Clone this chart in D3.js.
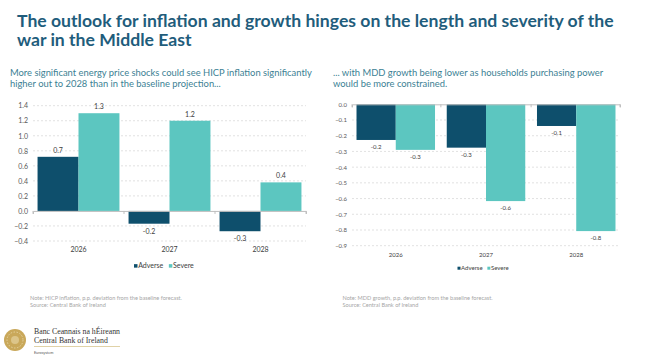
<!DOCTYPE html>
<html><head><meta charset="utf-8">
<script src="https://cdn.jsdelivr.net/npm/d3@7"></script>
<style>
html,body{margin:0;padding:0;background:#fff;}
svg{display:block;font-family:Lato,"Open Sans",sans-serif;}
</style></head>
<body>
<svg id="c" width="650" height="362"></svg>
<script>
const categories = ["2026", "2027", "2028"];
const seriesNames = ["Adverse", "Severe"];
const inflAdverse = [0.72, -0.17, -0.27];
const inflSevere = [1.30, 1.20, 0.38];
const inflLabels = [["0.7", "1.3"], ["-0.2", "1.2"], ["-0.3", "0.4"]];
const inflTicks = [-0.4, -0.2, 0, 0.2, 0.4, 0.6, 0.8, 1.0, 1.2, 1.4];
const growthAdverse = [-0.227, -0.276, -0.138];
const growthSevere = [-0.29, -0.616, -0.807];
const growthLabels = [["-0.2", "-0.3"], ["-0.3", "-0.6"], ["-0.1", "-0.8"]];
const growthTicks = [0, -0.1, -0.2, -0.3, -0.4, -0.5, -0.6, -0.7, -0.8, -0.9];
const colors = ["#0e4f6c", "#5cc6c0"];

const svg = d3.select("#c");
const titleColor = "#1f5d7c";
svg.append("text").attr("x", 17).attr("y", 27).attr("font-size", 17.6).attr("font-weight", 700)
  .attr("fill", titleColor).text("The outlook for inflation and growth hinges on the length and severity of the");
svg.append("text").attr("x", 17).attr("y", 46).attr("font-size", 17.6).attr("font-weight", 700)
  .attr("fill", titleColor).text("war in the Middle East");

const subColor = "#3c7f94";
function sub(x, lines){
  lines.forEach((t,i)=>svg.append("text").attr("x", x).attr("y", 76 + i*11).attr("font-size", 9.4)
    .attr("fill", subColor).text(t));
}
sub(10, ["More significant energy price shocks could see HICP inflation significantly", "higher out to 2028 than in the baseline projection..."]);
sub(333, ["... with MDD growth being lower as households purchasing power", "would be more constrained."]);

function chart(o){
  const g = svg.append("g");
  const x0 = d3.scaleBand().domain(categories).range([o.x0, o.x1]).paddingInner(o.pin).paddingOuter(o.pout);
  const x1 = d3.scaleBand().domain(seriesNames).range([0, x0.bandwidth()]).padding(0);
  const y = d3.scaleLinear().domain(o.domain).range([o.yb, o.yt]);
  g.selectAll(".grid").data(o.ticks.filter(t=>t!==0)).join("line")
    .attr("x1", o.x0).attr("x2", o.x1).attr("y1", d=>y(d)).attr("y2", d=>y(d))
    .attr("stroke", "#d9d9d9").attr("stroke-width", 0.8).attr("stroke-dasharray", "2,2");
  const ya = d3.axisLeft(y).tickValues(o.ticks).tickFormat(d3.format(".1f")).tickSize(0).tickPadding(0);
  const yg = g.append("g").attr("transform", `translate(${o.lx},0)`).call(ya);
  yg.select(".domain").remove();
  yg.selectAll("text").attr("font-size", o.fs).attr("fill", "#595959").attr("font-family", "Lato,sans-serif");
  const data = categories.map((c,i)=>({c, vals:[o.a[i], o.s[i]], labels:o.labels[i]}));
  const grp = g.selectAll(".cat").data(data).join("g").attr("transform", d=>`translate(${x0(d.c)},0)`);
  grp.selectAll("rect").data(d=>d.vals.map((v,j)=>({v, j, s:seriesNames[j]}))).join("rect")
    .attr("x", d=>x1(d.s)).attr("width", x1.bandwidth())
    .attr("y", d=>Math.min(y(0), y(d.v))).attr("height", d=>Math.abs(y(d.v)-y(0)))
    .attr("fill", d=>colors[d.j]);
  grp.selectAll(".lbl").data(d=>d.vals.map((v,j)=>({v, j, s:seriesNames[j], t:d.labels[j]}))).join("text")
    .attr("x", d=>x1(d.s)+x1.bandwidth()/2).attr("text-anchor", "middle")
    .attr("y", d=> d.v>=0 ? y(d.v)-4 : y(d.v)+ o.fs + 3)
    .attr("font-size", o.fs).attr("fill", "#404040").text(d=>d.t);
  const xa = d3.axisBottom(x0).tickSize(3).tickFormat("");
  const xg = g.append("g").attr("transform", `translate(0,${y(0)})`).call(xa);
  xg.select(".domain").attr("stroke", "#bfbfbf");
  xg.selectAll(".tick").remove();
  const bounds = [o.x0].concat(categories.map(c=>x0(c)+x0.bandwidth()+x0.step()*x0.paddingInner()/2).slice(0,2)).concat([o.x1]);
  g.selectAll(".bt").data(bounds).join("line").attr("x1", d=>d).attr("x2", d=>d)
    .attr("y1", y(0)).attr("y2", y(0)+3).attr("stroke", "#bfbfbf");
  g.selectAll(".cl").data(categories).join("text").attr("x", d=>x0(d)+x0.bandwidth()/2).attr("y", o.catY)
    .attr("text-anchor", "middle").attr("font-size", o.fs).attr("fill", "#404040").text(d=>d);
  const lg = g.append("g").attr("transform", `translate(${o.legX},${o.legY})`);
  let lx = 0;
  seriesNames.forEach((s,i)=>{
    lg.append("rect").attr("x", lx).attr("y", -o.fs*0.55).attr("width", o.fs*0.5).attr("height", o.fs*0.5).attr("fill", colors[i]);
    const t = lg.append("text").attr("x", lx + o.fs*0.6).attr("y", 0).attr("font-size", o.fs).attr("fill", "#404040").text(s);
    lx += o.fs*0.6 + t.node().getComputedTextLength() + o.fs*0.8;
  });
  g.append("text").attr("x", o.nx).attr("y", 299.5).attr("font-size", 5.6).attr("fill", "#a6a6a6").text(o.note);
  g.append("text").attr("x", o.nx).attr("y", 307).attr("font-size", 5.6).attr("fill", "#a6a6a6").text("Source: Central Bank of Ireland");
}

chart({x0:33, x1:306, pin:0.1, pout:0.05, domain:[-0.4,1.4], yb:241, yt:105.7, ticks:inflTicks,
  a:inflAdverse, s:inflSevere, labels:inflLabels, lx:28, fs:7, catY:252, legX:134, legY:268,
  nx:30, note:"Note: HICP inflation, p.p. deviation from the baseline forecast."});
chart({x0:352, x1:620, pin:0.13, pout:0.05, domain:[-0.9,0], yb:245.7, yt:104.3, ticks:growthTicks,
  a:growthAdverse, s:growthSevere, labels:growthLabels, lx:347, fs:6, catY:256.5, legX:457.5, legY:270,
  nx:342.5, note:"Note: MDD growth, p.p. deviation from the baseline forecast."});

const logo = svg.append("g");
logo.append("circle").attr("cx", 15).attr("cy", 340).attr("r", 11).attr("fill", "#c9a85a");
logo.append("circle").attr("cx", 15).attr("cy", 340).attr("r", 8).attr("fill", "none").attr("stroke", "#e6d3a0").attr("stroke-width", 1).attr("stroke-dasharray", "1.5,1.5");
logo.append("circle").attr("cx", 15).attr("cy", 340).attr("r", 4).attr("fill", "#dcc58a");
logo.append("text").attr("x", 34).attr("y", 333.5).attr("font-family", "'Liberation Serif',serif").attr("font-size", 7.8).attr("fill", "#333").text("Banc Ceannais na hÉireann");
logo.append("text").attr("x", 34).attr("y", 342.5).attr("font-family", "'Liberation Serif',serif").attr("font-size", 7.8).attr("fill", "#333").text("Central Bank of Ireland");
logo.append("line").attr("x1", 34).attr("x2", 120).attr("y1", 346.5).attr("y2", 346.5).attr("stroke", "#d8c690").attr("stroke-width", 0.8);
logo.append("text").attr("x", 34).attr("y", 354).attr("font-size", 3.8).attr("fill", "#555").text("Eurosystem");
</script>
</body></html>
